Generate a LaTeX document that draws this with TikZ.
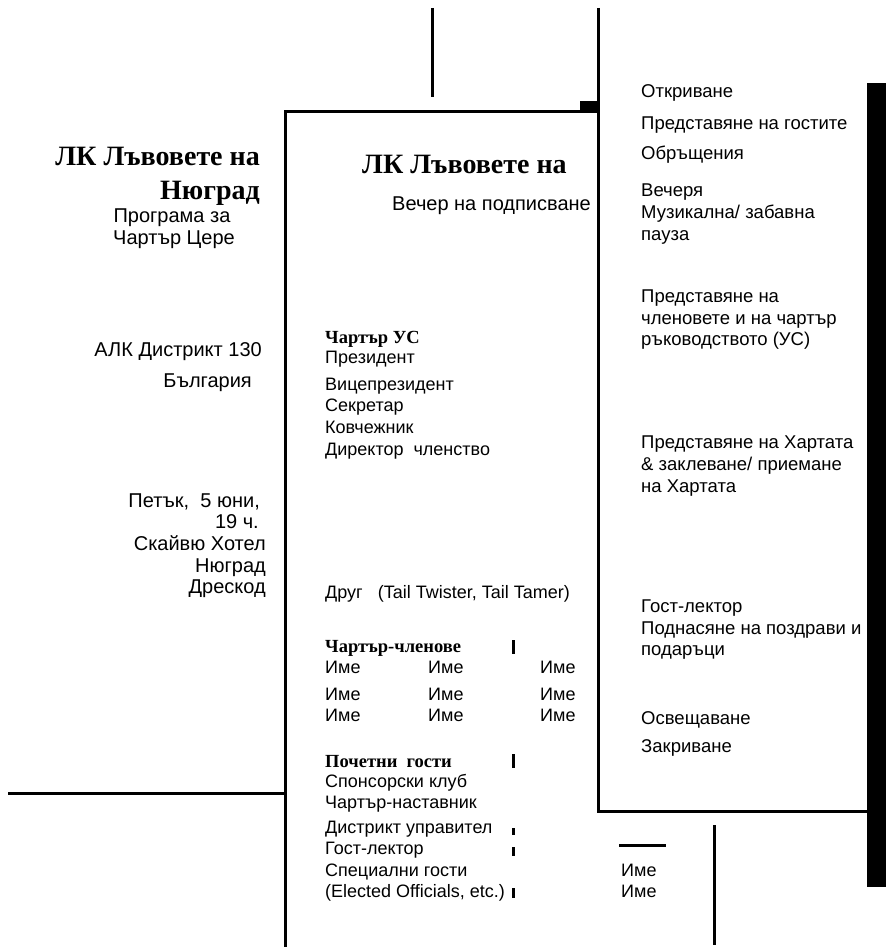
\documentclass[tikz,border=0pt]{standalone}
\usepackage{fontspec}
\setmainfont{Liberation Serif}
\setsansfont{Liberation Sans}
\begin{document}
\begin{tikzpicture}[x=1pt,y=-1pt,
  txt/.style={font=\fontsize{18.5}{21}\selectfont\sffamily, inner sep=0pt, anchor=base west},
  mid/.style={font=\fontsize{18}{21}\selectfont\sffamily, inner sep=0pt, anchor=base west},
  big/.style={font=\fontsize{20}{23}\selectfont\sffamily, inner sep=0pt, anchor=base east},
  ttl/.style={font=\fontsize{28}{32}\selectfont\bfseries, inner sep=0pt},
  hd/.style={font=\fontsize{18.5}{21}\selectfont\bfseries, inner sep=0pt, anchor=base west},
  rule/.style={line width=3pt},
  tick/.style={line width=3pt}]
\useasboundingbox (0,0) rectangle (886,947);
% lines
\draw[rule] (432,8) -- (432,97);
\draw[rule] (598,8) -- (598,811) -- (867,811);
\draw[rule] (285,947) -- (285,112) -- (598,112);
\fill (580,101) rectangle (599,113);
\fill (867,83) rectangle (886,887);
\draw[rule] (8,793) -- (285,793);
\draw[rule] (619,845) -- (666,845);
\draw[rule] (714,825) -- (714,945);
% ticks
\draw[tick] (513,640) -- (513,654);
\draw[tick] (513,754) -- (513,768);
\draw[tick] (513,828) -- (513,835);
\draw[tick] (513,847) -- (513,856);
\draw[tick] (513,888) -- (513,898);
% left column
\node[ttl, anchor=base east] (lt1) at (260,165) {ЛК Лъвовете на};
\node[ttl, anchor=base east] (lt2) at (260,199) {Нюград};
\node[big, anchor=base] (lp1) at (172,222) {Програма за};
\node[big, anchor=base] (lp2) at (174,244) {Чартър Цере};
\node[big] (ld) at (262,356) {АЛК Дистрикт 130};
\node[big] (lb) at (252,387) {България};
\node[big] (l1) at (260,507) {Петък,\ \ 5 юни,};
\node[big] (l2) at (259,528) {19 ч.};
\node[big] (l3) at (266,550) {Скайвю Хотел};
\node[big] (l4) at (266,572) {Нюград};
\node[big] (l5) at (266,593) {Дрескод};
% middle column
\node[ttl, anchor=base west] (mt) at (362,173) {ЛК Лъвовете на};
\node[big, anchor=base west] (mv) at (392,210) {Вечер на подписване};
\node[hd] (m1) at (325,343) {Чартър УС};
\node[mid] (m2) at (325,363) {Президент};
\node[mid] (m3) at (325,390) {Вицепрезидент};
\node[mid] (m4) at (325,411) {Секретар};
\node[mid] (m5) at (325,433) {Ковчежник};
\node[mid] (m6) at (325,455) {Директор\ \ членство};
\node[mid] (m7) at (325,598) {Друг\ \ \ (Tail Twister, Tail Tamer)};
\node[hd] (m8) at (325,652) {Чартър-членове};
\node[mid] (n11) at (325,673) {Име};
\node[mid] (n12) at (428,673) {Име};
\node[mid] (n13) at (540,673) {Име};
\node[mid] (n21) at (325,700) {Име};
\node[mid] (n22) at (428,700) {Име};
\node[mid] (n23) at (540,700) {Име};
\node[mid] (n31) at (325,721) {Име};
\node[mid] (n32) at (428,721) {Име};
\node[mid] (n33) at (540,721) {Име};
\node[hd] (m9) at (325,767) {Почетни\ \ гости};
\node[mid] (m10) at (325,787) {Спонсорски клуб};
\node[mid] (m11) at (325,808) {Чартър-наставник};
\node[mid] (m12) at (325,833) {Дистрикт управител};
\node[mid] (m13) at (325,854) {Гост-лектор};
\node[mid] (m14) at (325,876) {Специални гости};
\node[mid] (m15) at (325,897) {(Elected Officials, etc.)};
\node[mid] (i1) at (621,876) {Име};
\node[mid] (i2) at (621,897) {Име};
% right column
\node[txt] (r1) at (641,98) {Откриване};
\node[txt] (r2) at (641,129) {Представяне на гостите};
\node[txt] (r3) at (641,159) {Обръщения};
\node[txt] (r4) at (641,196) {Вечеря};
\node[txt] (r5) at (641,218) {Музикална/ забавна};
\node[txt] (r6) at (641,240) {пауза};
\node[txt] (r7) at (641,302) {Представяне на};
\node[txt] (r8) at (641,324) {членовете и на чартър};
\node[txt] (r9) at (641,345) {ръководството (УС)};
\node[txt] (r10) at (641,448) {Представяне на Хартата};
\node[txt] (r11) at (641,470) {\& заклеване/ приемане};
\node[txt] (r12) at (641,492) {на Хартата};
\node[txt] (r13) at (641,612) {Гост-лектор};
\node[txt] (r14) at (641,634) {Поднасяне на поздрави и};
\node[txt] (r15) at (641,655) {подаръци};
\node[txt] (r16) at (641,724) {Освещаване};
\node[txt] (r17) at (641,752) {Закриване};
\end{tikzpicture}
\end{document}
